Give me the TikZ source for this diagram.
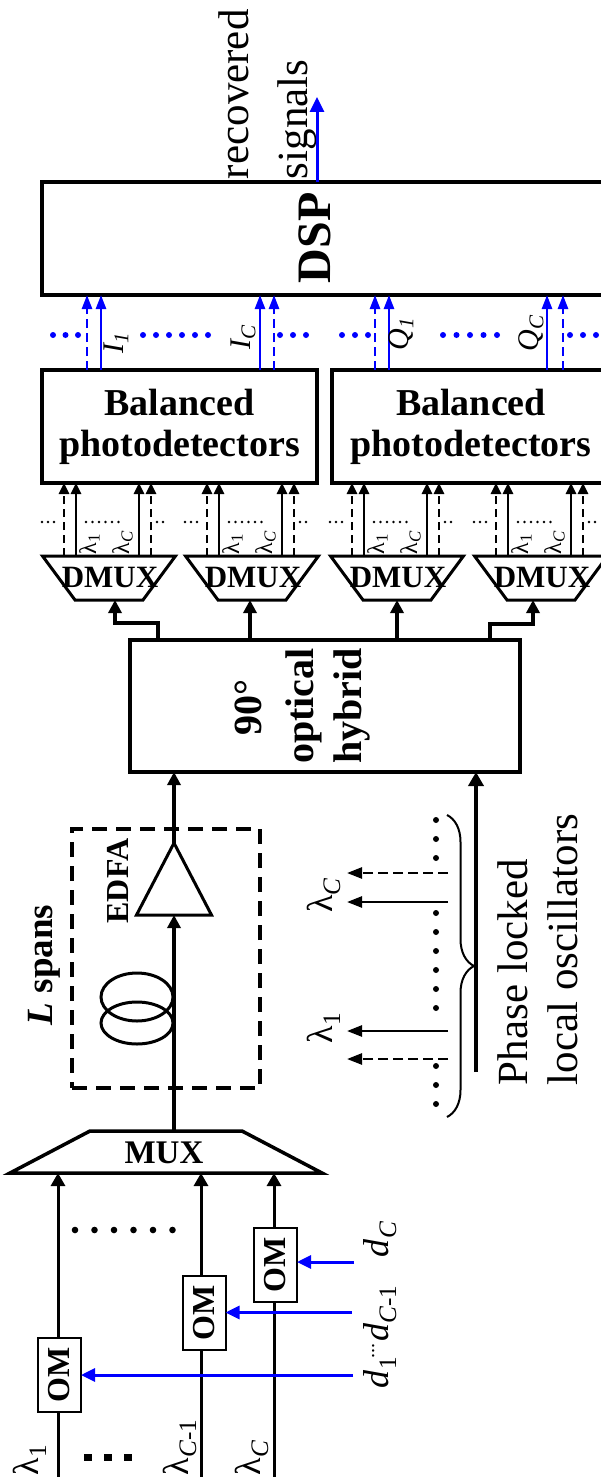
\documentclass[tikz,border=0pt]{standalone}
\usepackage{fontspec}
\setmainfont{Liberation Serif}
\usepackage{graphicx}
\usetikzlibrary{arrows.meta,decorations.pathreplacing,calc}
\newcommand{\fsz}[1]{\fontsize{#1}{#1}\selectfont}
\newcommand{\lsub}[1]{\textsubscript{#1}}
\begin{document}
\begin{tikzpicture}[x=1pt,y=-1pt,
  box/.style={draw, line width=3.7pt, fill=white, inner sep=0pt, outer sep=0pt},
  ombox/.style={draw, line width=2pt, fill=white, inner sep=0pt, outer sep=0pt, minimum width=43pt, minimum height=74pt, font=\bfseries\fsz{32}},
  thickarrow/.style={line width=3.7pt, -{Triangle[length=13pt,width=13pt]}},
  midarrow/.style={line width=3pt, -{Triangle[length=13pt,width=14pt]}},
  thinarrow/.style={line width=2.5pt, -{Triangle[length=11pt,width=10pt]}},
  loarrow/.style={line width=2.5pt, -{Triangle[length=15pt,width=11pt]}},
  bluearrow/.style={blue, line width=2.5pt, -{Triangle[length=14pt,width=10pt]}},
  bigbluearrow/.style={blue, line width=3pt, -{Triangle[length=15pt,width=14pt]}},
  dblue/.style={blue, line width=3pt, -{Triangle[length=14pt,width=13pt]}},
  rot/.style={rotate=90, inner sep=0pt, outer sep=0pt},
  bdash/.style={dash pattern=on 9pt off 5pt},
  kdash/.style={dash pattern=on 8pt off 5pt},
  ldash/.style={dash pattern=on 10pt off 5pt},
]
\useasboundingbox (0,0) rectangle (600,1477);

% ---------- DSP ----------
\node[box, minimum width=566pt, minimum height=113pt] (dsp) at (325,238.5) {};
\node[rot, anchor=base, font=\bfseries\fsz{48}] (dsptxt) at (330,238) {DSP};
\node[rot, anchor=base west, font=\fsz{43}] (rec1) at (248,179) {recovered};
\node[rot, anchor=base west, font=\fsz{43}] (rec2) at (307,179) {signals};
\coordinate (outtip) at (317,97);
\draw[bigbluearrow] (dsp.north -| outtip) -- (outtip);

% ---------- photodetectors ----------
\node[box, minimum width=275pt, minimum height=113pt, align=center,
      font=\bfseries\fontsize{38}{41}\selectfont] (pd1) at (179.5,426.5) {Balanced\\photodetectors};
\node[box, minimum width=278pt, minimum height=113pt, align=center,
      font=\bfseries\fontsize{38}{41}\selectfont] (pd2) at (471,426.5) {Balanced\\photodetectors};

\foreach \x in {101,260} \draw[bluearrow] (pd1.north -| \x,0) -- (dsp.south -| \x,0);
\foreach \x in {87,274} \draw[bluearrow,bdash] (pd1.north -| \x,0) -- (dsp.south -| \x,0);
\foreach \x in {389,547} \draw[bluearrow] (pd2.north -| \x,0) -- (dsp.south -| \x,0);
\foreach \x in {375,563} \draw[bluearrow,bdash] (pd2.north -| \x,0) -- (dsp.south -| \x,0);
\foreach \x in {53,65.5,78,143,156,169,182,195,208,280,293,306,342,355,368,443,456.5,470,483.5,497,570,583,596}
  \fill[blue] (\x,335) circle (3pt);

\node[rot, anchor=base, font=\itshape\fsz{30}] (lI1) at (123,343) {I\lsub{1}};
\node[rot, anchor=base, font=\itshape\fsz{30}] (lIC) at (250,337) {I\lsub{C}};
\node[rot, anchor=base, font=\itshape\fsz{30}] (lQ1) at (408,334) {Q\lsub{1}};
\node[rot, anchor=base, font=\itshape\fsz{30}] (lQC) at (538,333) {Q\lsub{C}};

% ---------- hybrid ----------
\node[box, minimum width=390pt, minimum height=132pt] (hyb) at (325,706) {};
\node[rot, anchor=base, font=\bfseries\fsz{40}] (hy1) at (261,707) {90°};
\node[rot, anchor=base, font=\bfseries\fsz{40}] (hy2) at (313,706) {optical};
\node[rot, anchor=base, font=\bfseries\fsz{40}] (hy3) at (361,706) {hybrid};

% ---------- DMUX ----------
\foreach \c/\p [count=\i] in {109/pd1,252/pd1,397/pd2,541/pd2}{
  \draw[line width=3pt, fill=white] (\c-66.5,556) -- (\c+66.5,556) -- (\c+34,600) -- (\c-34,600) -- cycle;
  \node[anchor=base, inner sep=0pt, font=\bfseries\fsz{31}] (dm\i) at (\c+1,587) {DMUX};
  \draw[thinarrow] (\c-33,556) -- (\p.south -| \c-33,0);
  \draw[thinarrow] (\c+30,556) -- (\p.south -| \c+30,0);
  \draw[thinarrow,kdash] (\c-45,556) -- (\p.south -| \c-45,0);
  \draw[thinarrow,kdash] (\c+42,556) -- (\p.south -| \c+42,0);
  \foreach \d in {-67,-61,-55,-23,-16.5,-10,-3.5,3,9.5,48,54}
    \fill (\c+\d,522) circle (1.4pt);
  \node[rot, anchor=base west, font=\fsz{24}] (dla\i) at (\c-13,554) {λ\lsub{1}};
  \node[rot, anchor=base west, font=\fsz{24}] (dlb\i) at (\c+20,554) {λ\lsub{\textit{C}}};
}
\coordinate (dmin1) at (115,600);
\coordinate (dmin2) at (250,600);
\coordinate (dmin3) at (397,600);
\coordinate (dmin4) at (533,600);
\draw[thickarrow] (hyb.north -| 158,0) -- ++(0,-17) -| (dmin1);
\draw[thickarrow] (hyb.north -| dmin2) -- (dmin2);
\draw[thickarrow] (hyb.north -| dmin3) -- (dmin3);
\draw[thickarrow] (hyb.north -| 490,0) -- ++(0,-16) -| (dmin4);

% ---------- span ----------
\node[draw, line width=3.5pt, dash pattern=on 15pt off 9pt, minimum width=188pt, minimum height=259pt, inner sep=0pt] (span) at (166,958.5) {};
\node[rot, anchor=base, font=\bfseries\fsz{32}] (edfa) at (128,881) {EDFA};
\node[rot, anchor=base, font=\bfseries\fsz{37}] (lspans) at (52,965) {\textit{L} spans};
\coordinate (muxtop) at (174,1131);
\coordinate (ampbase) at (174,915);
\coordinate (ampapex) at (174,843);
\draw[thickarrow] (muxtop) -- (ampbase);
\draw[line width=3pt, fill=white] (ampapex) -- ($(ampbase)+(-37.5,0)$) -- ($(ampbase)+(37.5,0)$) -- cycle;
\draw[thickarrow] (ampapex) -- (hyb.south -| ampapex);
\draw[line width=3pt] (137,997) ellipse [x radius=36, y radius=24];
\draw[line width=3pt] (137,1023) ellipse [x radius=36, y radius=21];

% ---------- local oscillators ----------
\coordinate (lostart) at (476,1072);
\draw[line width=4.5pt, -{Triangle[length=14pt,width=15pt]}] (lostart) -- (hyb.south -| lostart);
\draw[line width=2pt, decorate, decoration={brace, amplitude=27pt}] (447,815) -- (447,1117);
\coordinate (loC) at (347,902);
\coordinate (loCd) at (347,873);
\coordinate (lo1) at (347,1031);
\coordinate (lo1d) at (347,1059);
\draw[loarrow] (loC -| 448,0) -- (loC);
\draw[loarrow,ldash] (loCd -| 448,0) -- (loCd);
\draw[loarrow] (lo1 -| 448,0) -- (lo1);
\draw[loarrow,ldash] (lo1d -| 448,0) -- (lo1d);
\foreach \y in {820,839,858,913,932,951,970,989,1008,1066,1085,1104}
  \fill (436,\y) circle (3pt);
\node[rot, anchor=base, font=\fsz{36}] (lamLC) at (332,895) {λ\lsub{\textit{C}}};
\node[rot, anchor=base, font=\fsz{36}] (lamL1) at (332,1028) {λ\lsub{1}};
\node[rot, anchor=base west, font=\fsz{43}] (ph1) at (527,1085) {Phase locked};
\node[rot, anchor=base west, font=\fsz{43}] (ph2) at (577,1085) {local oscillators};

% ---------- MUX and transmitters ----------
\draw[line width=3.5pt, fill=white] (90,1131) -- (242,1131) -- (322,1173) -- (10,1173) -- cycle;
\node[anchor=base, inner sep=0pt, font=\bfseries\fsz{33}] (mux) at (164,1163) {MUX};
\coordinate (muxin1) at (58,1173);
\coordinate (muxin2) at (201,1173);
\coordinate (muxin3) at (274,1173);
\foreach \i in {1,2,3} \draw[midarrow] (muxin\i |- 0,1480) -- (muxin\i);
\foreach \x in {75,94.5,114,133.5,153,172.5} \fill (\x,1230) circle (3.3pt);
\node[ombox] (om1) at (59.5,1375) {\rotatebox{90}{OM}};
\node[ombox] (om2) at (204,1312.5) {\rotatebox{90}{OM}};
\node[ombox] (om3) at (275.5,1264.5) {\rotatebox{90}{OM}};
\draw[dblue] (om1.east -| 353,0) -- (om1.east);
\draw[dblue] (om2.east -| 352,0) -- (om2.east);
\draw[dblue] (354,1262) -- (om3.east |- 0,1262);
\node[rot, anchor=base west, font=\fsz{36}] (dl1) at (388,1388)
  {\textit{d}\lsub{1}\kern-2pt\raisebox{14pt}{\fsz{20}...}\kern2pt\textit{d}\lsub{\textit{C}-1}};
\node[rot, anchor=base west, font=\fsz{36}] (dlC) at (388,1257) {\textit{d}\lsub{\textit{C}}};
\node[rot, anchor=base west, font=\fsz{36}] (lam1) at (38,1475) {λ\lsub{1}};
\node[rot, anchor=base west, font=\fsz{36}] (lamC1) at (188,1475) {λ\lsub{\textit{C}-1}};
\node[rot, anchor=base west, font=\fsz{36}] (lamC) at (260,1475) {λ\lsub{\textit{C}}};
\foreach \x in {88,108,128} \fill (\x-4,1453.5) rectangle ++(8,7);
\end{tikzpicture}
\end{document}
